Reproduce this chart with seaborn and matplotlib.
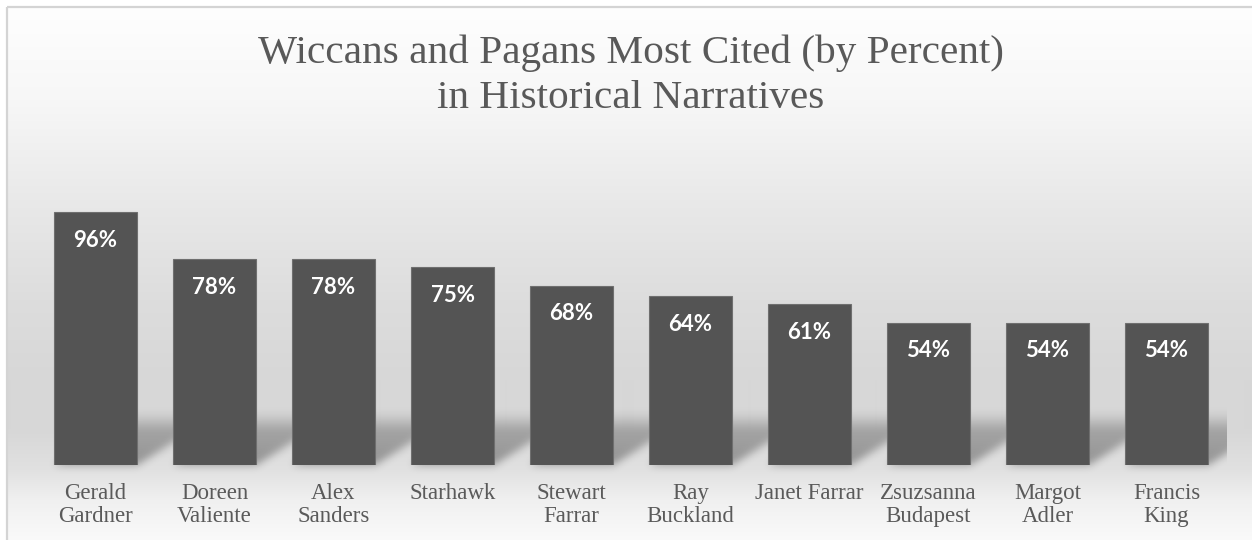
import numpy as np
import pandas as pd
import matplotlib
matplotlib.use("Agg")
import matplotlib.pyplot as plt
import seaborn as sns

# Chart data
names = ["Gerald\nGardner", "Doreen\nValiente", "Alex\nSanders", "Starhawk",
         "Stewart\nFarrar", "Ray\nBuckland", "Janet Farrar", "Zsuzsanna\nBudapest",
         "Margot\nAdler", "Francis\nKing"]
percent = [96, 78, 78, 75, 68, 64, 61, 54, 54, 54]
value_labels = [f"{v}%" for v in percent]
title_lines = ["Wiccans and Pagans Most Cited (by Percent)", "in Historical Narratives"]

df = pd.DataFrame({"name": names, "percent": percent})

sns.set_theme(style="white")
plt.rcParams["font.family"] = ["Liberation Serif", "DejaVu Serif"]

W, H = 1252, 540
DPI = 100
fig = plt.figure(figsize=(W / DPI, H / DPI), dpi=DPI, facecolor="white")

# Backdrop: soft vertical grey gradient inside a thin frame
bg = fig.add_axes([0, 0, 1, 1], zorder=0)
bg.set_xlim(0, W)
bg.set_ylim(H, 0)
bg.axis("off")
stops_y = np.array([7, 100, 200, 300, 380, 430, 470, 500, 540])
stops_g = np.array([254, 247, 233, 221, 215, 215, 225, 240, 250]) / 255.0
rows = np.arange(H) + 0.5
col = np.interp(rows, stops_y, stops_g)
grad = np.repeat(col[:, None], 2, axis=1)
grad_rgb = np.dstack([grad, grad, grad])
frame = 7
bg.imshow(grad_rgb[frame:], extent=(frame, W, H, frame), aspect="auto",
          interpolation="bilinear", zorder=0)
bg.plot([frame, frame], [frame, H], color="#d4d4d4", lw=1.6, zorder=1,
        solid_capstyle="butt")
bg.plot([frame, W], [frame, frame], color="#d4d4d4", lw=1.6, zorder=1,
        solid_capstyle="butt")

# Main bar axes
ax_left, ax_right = 36, 1226
ax_bottom = 465
px_per_unit = 2.635
ax_top = 7
ax = fig.add_axes([ax_left / W, (H - ax_bottom) / H,
                   (ax_right - ax_left) / W, (ax_bottom - ax_top) / H], zorder=2)
ax.patch.set_alpha(0)

sns.barplot(data=df, x="name", y="percent", ax=ax, color="#545454",
            saturation=1, width=0.70, edgecolor="#6f6f6f", linewidth=0.8)
ax.set_xlim(-0.5, len(names) - 0.5)
ax.set_ylim(0, (ax_bottom - ax_top) / px_per_unit)
sns.despine(ax=ax, left=True, bottom=True)
ax.set_yticks([])
ax.set_xlabel("")
ax.set_ylabel("")
ax.tick_params(axis="x", length=0, pad=13)
for lbl in ax.get_xticklabels():
    lbl.set_fontsize(16.5)
    lbl.set_color("#5a5a5a")
    lbl.set_linespacing(1.12)

# Value labels inside the top of each bar
for p, txt in zip(ax.patches, value_labels):
    cx = p.get_x() + p.get_width() / 2
    ytop = p.get_height()
    ax.annotate(txt, (cx, ytop), xytext=(0, -28), textcoords="offset pixels",
                ha="center", va="center", color="white", fontsize=16,
                fontweight="bold", family=["Lato", "DejaVu Sans"])

# Floor shadow cast by the bars toward the back right
yy, xx = np.mgrid[0:H, 0:W] + 0.5
shadow = np.zeros((H, W))
sh_h, sh_dx = 54.0, 85.0
for p in ax.patches:
    (x0, yb), (x1, _) = ax.transData.transform(
        [(p.get_x(), 0), (p.get_x() + p.get_width(), 0)])
    base = H - yb
    t = (base - yy) / sh_h
    inside = (t >= 0) & (t <= 1) & (xx >= x0 + t * sh_dx) & (xx <= x1 + t * sh_dx)
    strength = (1.0 - 0.45 * t) * np.clip((1.0 - t) / 0.35, 0, 1)
    shadow = np.maximum(shadow, np.where(inside, strength, 0.0))

def blur(a, sigma):
    r = int(3 * sigma)
    k = np.exp(-0.5 * (np.arange(-r, r + 1) / sigma) ** 2)
    k /= k.sum()
    a = np.apply_along_axis(lambda v: np.convolve(v, k, mode="same"), 0, a)
    a = np.apply_along_axis(lambda v: np.convolve(v, k, mode="same"), 1, a)
    return a

shadow = blur(shadow, 4.0)
shadow[:, (xx[0] > ax_right + 1)] = 0
shadow[:, (xx[0] < ax_left)] = 0
rgba = np.zeros((H, W, 4))
rgba[..., 3] = 0.34 * shadow
bg.imshow(rgba, extent=(0, W, H, 0), aspect="auto", interpolation="bilinear",
          zorder=0.5)

# Title
for i, line in enumerate(title_lines):
    fig.text(631 / W, 1 - (63 + 45 * i) / H, line, ha="center", va="baseline",
             fontsize=29.7, color="#595959", family=["Liberation Serif", "DejaVu Serif"])

fig.savefig("out.png", dpi=DPI, facecolor="white")
